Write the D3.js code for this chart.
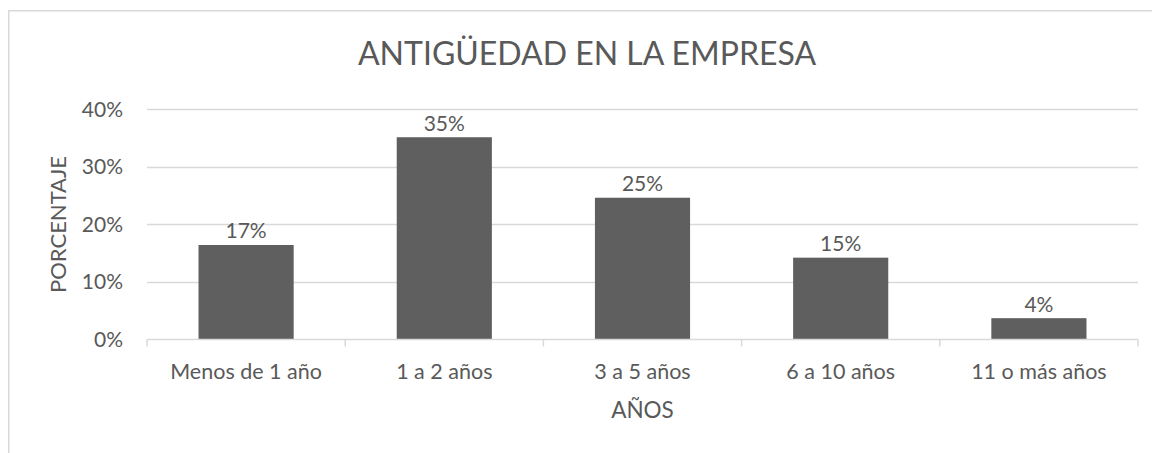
<!DOCTYPE html>
<html>
<head>
<meta charset="utf-8">
<script src="https://cdn.jsdelivr.net/npm/d3@7"></script>
<style>
  html, body { margin: 0; padding: 0; background: #fff; }
  svg { display: block; }
  text { font-family: Lato, "Open Sans", "DejaVu Sans", sans-serif; fill: #595959; }
</style>
</head>
<body>
<svg id="chart" width="1152" height="453"></svg>
<script>
const categories = ["Menos de 1 año", "1 a 2 años", "3 a 5 años", "6 a 10 años", "11 o más años"];
const values = [0.164, 0.351, 0.246, 0.142, 0.037];
const valueLabels = ["17%", "35%", "25%", "15%", "4%"];
const yTicks = [0, 0.1, 0.2, 0.3, 0.4];
const yTickLabels = ["0%", "10%", "20%", "30%", "40%"];
const title = "ANTIGÜEDAD EN LA EMPRESA";
const xTitle = "AÑOS";
const yTitle = "PORCENTAJE";

const svg = d3.select("#chart");
const W = 1152, H = 453;
const plot = { left: 147, right: 1138, top: 109, bottom: 339.5 };

// chart area border
svg.append("rect")
  .attr("x", 8.75).attr("y", 10.75)
  .attr("width", W + 10).attr("height", H + 10)
  .attr("fill", "none").attr("stroke", "#d9d9d9").attr("stroke-width", 1.5);

const x = d3.scaleBand()
  .domain(categories)
  .range([plot.left, plot.right])
  .paddingInner(0.52)
  .paddingOuter(0.26);

const y = d3.scaleLinear()
  .domain([0, 0.4])
  .range([plot.bottom, plot.top]);

// gridlines
svg.append("g")
  .selectAll("line")
  .data(yTicks.filter(d => d > 0))
  .join("line")
  .attr("x1", plot.left).attr("x2", plot.right)
  .attr("y1", d => Math.round(y(d)) + 0.5).attr("y2", d => Math.round(y(d)) + 0.5)
  .attr("stroke", "#d9d9d9").attr("stroke-width", 1.5);

// y tick labels
svg.append("g")
  .selectAll("text")
  .data(yTicks)
  .join("text")
  .attr("x", 123)
  .attr("y", d => y(d) + 7.5)
  .attr("text-anchor", "end")
  .style("font-size", "21px")
  .text((d, i) => yTickLabels[i]);

// bars
svg.append("g")
  .selectAll("rect")
  .data(values)
  .join("rect")
  .attr("x", (d, i) => x(categories[i]))
  .attr("width", x.bandwidth())
  .attr("y", d => y(d))
  .attr("height", d => y(0) - y(d))
  .attr("fill", "#5f5f5f");

// data labels
svg.append("g")
  .selectAll("text")
  .data(values)
  .join("text")
  .attr("x", (d, i) => x(categories[i]) + x.bandwidth() / 2)
  .attr("y", d => y(d) - 6.5)
  .attr("text-anchor", "middle")
  .style("font-size", "21px")
  .text((d, i) => valueLabels[i]);

// x axis
const gx = svg.append("g").attr("transform", `translate(0,${plot.bottom})`);
gx.append("line")
  .attr("x1", plot.left).attr("x2", plot.right)
  .attr("y1", 0).attr("y2", 0)
  .attr("stroke", "#d9d9d9").attr("stroke-width", 1.5);
const boundaries = categories.map(c => x(c) - x.step() * x.paddingInner() / 2).concat([plot.right]);
gx.selectAll("line.tick")
  .data(boundaries)
  .join("line")
  .attr("class", "tick")
  .attr("x1", d => d).attr("x2", d => d)
  .attr("y1", 0).attr("y2", 7)
  .attr("stroke", "#d9d9d9").attr("stroke-width", 1.5);

svg.append("g")
  .selectAll("text")
  .data(categories)
  .join("text")
  .attr("x", d => x(d) + x.bandwidth() / 2)
  .attr("y", 379)
  .attr("text-anchor", "middle")
  .style("font-size", "21.5px")
  .text(d => d);

// titles
svg.append("text")
  .attr("x", 587).attr("y", 65)
  .attr("text-anchor", "middle")
  .style("font-size", "32px")
  .text(title);

svg.append("text")
  .attr("x", (plot.left + plot.right) / 2).attr("y", 418)
  .attr("text-anchor", "middle")
  .style("font-size", "22.5px")
  .text(xTitle);

svg.append("text")
  .attr("transform", "translate(66,224.5) rotate(-90)")
  .attr("text-anchor", "middle")
  .style("font-size", "22px")
  .text(yTitle);
</script>
</body>
</html>
